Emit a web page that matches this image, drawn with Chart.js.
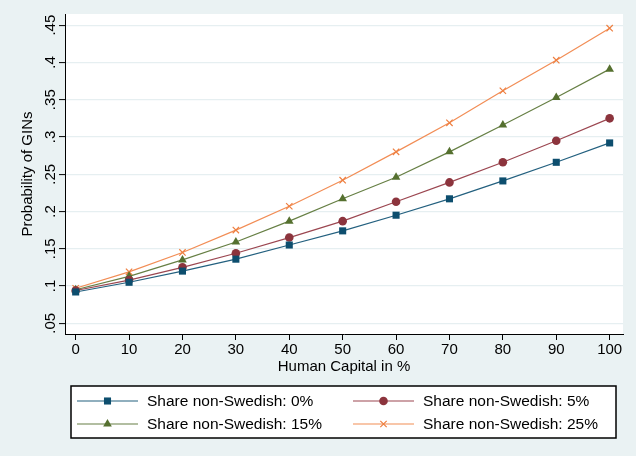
<!DOCTYPE html>
<html lang="en">
<head>
    <meta charset="UTF-8">
    <script src="https://cdn.jsdelivr.net/npm/chart.js"></script>
    <title>Probability of GINs</title>
    <style>
        * { margin: 0; padding: 0; box-sizing: border-box; }
        body { background: #eaf2f3; }
        #wrap { width: 636px; height: 456px; }
    </style>
</head>
<body>
<div id="wrap">
    <canvas id="gins" width="636" height="456"></canvas>
</div>
<script>
    // values
    const humanCapital = [0, 10, 20, 30, 40, 50, 60, 70, 80, 90, 100];
    const share0  = [0.092, 0.105, 0.120, 0.136, 0.155, 0.174, 0.195, 0.217, 0.241, 0.266, 0.292];
    const share5  = [0.094, 0.108, 0.125, 0.144, 0.165, 0.187, 0.213, 0.239, 0.266, 0.295, 0.325];
    const share15 = [0.095, 0.113, 0.135, 0.159, 0.187, 0.217, 0.246, 0.280, 0.316, 0.353, 0.391];
    const share25 = [0.097, 0.119, 0.145, 0.175, 0.207, 0.242, 0.280, 0.319, 0.362, 0.403, 0.446];
    const seriesLabels = ['Share non-Swedish: 0%', 'Share non-Swedish: 5%', 'Share non-Swedish: 15%', 'Share non-Swedish: 25%'];
    const yTicks = [0.05, 0.1, 0.15, 0.2, 0.25, 0.3, 0.35, 0.4, 0.45];
    const yTickLabels = ['.05', '.1', '.15', '.2', '.25', '.3', '.35', '.4', '.45'];
    const xTicks = [0, 10, 20, 30, 40, 50, 60, 70, 80, 90, 100];

    const FONT = 'Liberation Sans, Arial, sans-serif';

    const toPoints = vals => vals.map((v, i) => ({ x: humanCapital[i], y: v }));

    const makeSeries = (label, vals, line, fill, style, radius) => ({
        label: label,
        data: toPoints(vals),
        borderColor: line,
        backgroundColor: fill,
        borderWidth: 1.2,
        pointStyle: style,
        pointRadius: radius,
        pointBackgroundColor: fill,
        pointBorderColor: fill,
        pointBorderWidth: style === 'crossRot' ? 1.2 : 0,
        tension: 0
    });

    // white plot region on the grey-blue page
    const plotBackground = {
        id: 'plotBackground',
        beforeDraw(chart) {
            const { ctx, chartArea: a } = chart;
            ctx.save();
            ctx.fillStyle = '#eaf2f3';
            ctx.fillRect(0, 0, chart.width, chart.height);
            ctx.fillStyle = '#ffffff';
            ctx.fillRect(a.left, a.top, a.right - a.left, a.bottom - a.top);
            ctx.restore();
        }
    };

    // boxed two-column legend with line + marker samples
    const boxLegend = {
        id: 'boxLegend',
        afterDraw(chart) {
            const ctx = chart.ctx;
            const box = { x: 71, y: 386, w: 545, h: 52 };
            ctx.save();
            ctx.fillStyle = '#ffffff';
            ctx.fillRect(box.x, box.y, box.w, box.h);
            ctx.strokeStyle = '#000';
            ctx.lineWidth = 1.5;
            ctx.strokeRect(box.x, box.y, box.w, box.h);

            const cols = [77, 353];
            const rows = [401, 424];
            ctx.font = '15.5px ' + FONT;
            ctx.textBaseline = 'middle';
            chart.data.datasets.forEach((ds, i) => {
                const cx = cols[i % 2];
                const cy = rows[Math.floor(i / 2)];
                ctx.strokeStyle = ds.borderColor;
                ctx.lineWidth = ds.borderWidth;
                ctx.beginPath();
                ctx.moveTo(cx, cy);
                ctx.lineTo(cx + 61, cy);
                ctx.stroke();
                ctx.fillStyle = ds.pointBackgroundColor;
                ctx.strokeStyle = ds.pointBorderColor;
                ctx.lineWidth = ds.pointBorderWidth || 1;
                Chart.helpers.drawPoint(ctx, {
                    pointStyle: ds.pointStyle,
                    radius: ds.pointRadius,
                    rotation: 0,
                    borderWidth: ds.pointBorderWidth
                }, cx + 30.5, cy);
                ctx.fillStyle = '#000';
                ctx.fillText(ds.label, cx + 70, cy + 1);
            });
            ctx.restore();
        }
    };

    const ctx = document.getElementById('gins').getContext('2d');
    new Chart(ctx, {
        type: 'line',
        data: {
            datasets: [
                makeSeries(seriesLabels[0], share0, '#23607f', '#0d4e6e', 'rect', 5),
                makeSeries(seriesLabels[1], share5, '#9b4650', '#8c343d', 'circle', 4.3),
                makeSeries(seriesLabels[2], share15, '#667f44', '#55702f', 'triangle', 5),
                makeSeries(seriesLabels[3], share25, '#f28d55', '#ee7f40', 'crossRot', 4.5)
            ]
        },
        options: {
            responsive: false,
            devicePixelRatio: 1,
            animation: false,
            layout: { padding: { left: 19, top: 14, right: 13, bottom: 80 } },
            plugins: {
                legend: { display: false },
                tooltip: { enabled: false }
            },
            scales: {
                x: {
                    type: 'linear',
                    min: -2,
                    max: 102.5,
                    afterBuildTicks: scale => { scale.ticks = xTicks.map(v => ({ value: v })); },
                    afterFit: scale => { scale.height = 42; },
                    grid: { drawOnChartArea: false, tickLength: 6, tickColor: '#000', tickWidth: 1 },
                    border: { color: '#000', width: 1 },
                    ticks: { color: '#000', padding: 1, maxRotation: 0, font: { family: FONT, size: 15 } },
                    title: {
                        display: true,
                        text: 'Human Capital in %',
                        color: '#000',
                        padding: { top: 0, bottom: 0 },
                        font: { family: FONT, size: 15 }
                    }
                },
                y: {
                    type: 'linear',
                    min: 0.0356,
                    max: 0.465,
                    afterBuildTicks: scale => { scale.ticks = yTicks.map(v => ({ value: v })); },
                    afterFit: scale => { scale.width = 46; },
                    grid: { color: '#e6eff1', lineWidth: 1.2, tickLength: 6, tickColor: '#000', tickWidth: 1 },
                    border: { color: '#000', width: 1 },
                    ticks: {
                        color: '#000',
                        padding: -2,
                        minRotation: 90,
                        maxRotation: 90,
                        crossAlign: 'center',
                        font: { family: FONT, size: 15 },
                        callback: (v) => yTickLabels[yTicks.findIndex(t => Math.abs(t - v) < 1e-9)]
                    },
                    title: {
                        display: true,
                        text: 'Probability of GINs',
                        color: '#000',
                        padding: { top: 0, bottom: 0 },
                        font: { family: FONT, size: 15 }
                    }
                }
            }
        },
        plugins: [plotBackground, boxLegend]
    });
</script>
</body>
</html>
